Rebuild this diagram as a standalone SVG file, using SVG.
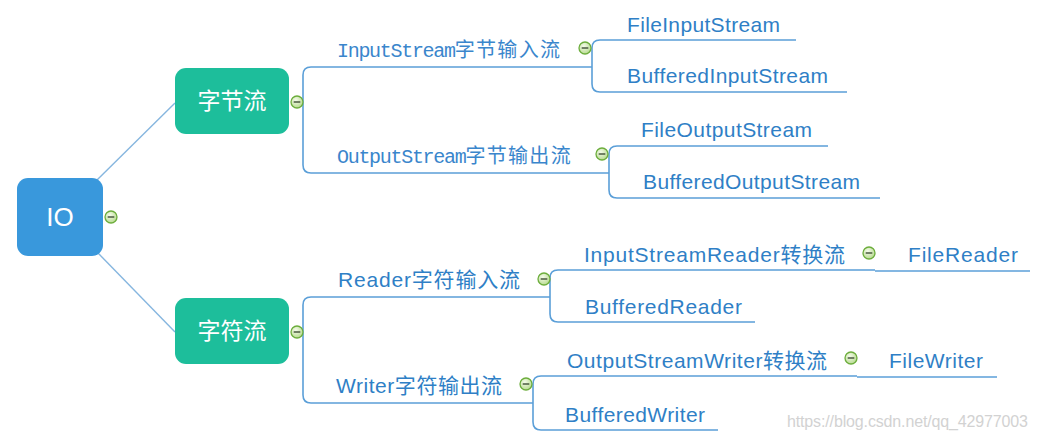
<svg xmlns="http://www.w3.org/2000/svg" xmlns:xlink="http://www.w3.org/1999/xlink" width="1039" height="441" viewBox="0 0 1039 441">
<style>
.edge{fill:none;stroke:#5b9fd8;stroke-width:1.6}
.lead{fill:none;stroke:#86b6df;stroke-width:1.4}
.lbl{font-family:"Liberation Sans","Noto Sans CJK SC",sans-serif;font-size:21px;fill:#2f7fc6}
.mono{font-family:"Liberation Mono","Noto Sans CJK SC",monospace;font-size:20px;letter-spacing:-1.3px;fill:#3a86cc}
.cjk{font-family:"Noto Sans CJK SC",sans-serif;font-size:20px;letter-spacing:1.3px}
.top{font-family:"Noto Sans CJK SC",sans-serif;font-size:23px;fill:#ffffff}
.wm{font-family:"Liberation Sans",sans-serif;font-size:16px;fill:#d2d2d2}
</style>
<defs>
<radialGradient id="g" cx="0.4" cy="0.35" r="0.7">
<stop offset="0" stop-color="#f4fbe9"/>
<stop offset="1" stop-color="#b5d98c"/>
</radialGradient>
<g id="minus">
<circle cx="0" cy="0" r="6" fill="url(#g)" stroke="#6cad3c" stroke-width="1.3"/>
<line x1="-3.3" y1="0" x2="3.3" y2="0" stroke="#4a5a40" stroke-width="1.5"/>
</g>
</defs>
<g id="connectors">
<path class="lead" d="M97,180 L175,103"/>
<path class="lead" d="M98,253 L175,332"/>
<path class="edge" d="M592,67 H311 Q303,67 303,75 V165 Q303,173 311,173 H609"/>
<path class="edge" d="M796,40 H600 Q592,40 592,48 V84 Q592,92 600,92 H847"/>
<path class="edge" d="M828,146 H617 Q609,146 609,154 V190 Q609,198 617,198 H880"/>
<path class="edge" d="M550,297 H311 Q303,297 303,305 V395 Q303,403 311,403 H533"/>
<path class="edge" d="M875,270 H558 Q550,270 550,278 V314 Q550,322 558,322 H755"/>
<path class="edge" d="M875,271 H1030"/>
<path class="edge" d="M857,376 H541 Q533,376 533,384 V422 Q533,430 541,430 H718"/>
<path class="edge" d="M857,377 H997"/>
</g>
<g id="node-io">
<rect x="17" y="178" width="86" height="78" rx="11" fill="#3998dc"/>
<text x="60" y="226" text-anchor="middle" font-family="Liberation Sans,sans-serif" font-size="26" fill="#ffffff">IO</text>
<use xlink:href="#minus" x="111" y="217"/>
</g>
<g id="node-bytes">
<rect x="175" y="68" width="114" height="66" rx="11" fill="#1dbe9b"/>
<text class="top" x="232" y="109" text-anchor="middle">字节流</text>
<use xlink:href="#minus" x="297" y="102"/>
</g>
<g id="node-chars">
<rect x="175" y="298" width="114" height="66" rx="11" fill="#1dbe9b"/>
<text class="top" x="232" y="339" text-anchor="middle">字符流</text>
<use xlink:href="#minus" x="297" y="332"/>
</g>
<g id="node-inputstream">
<text class="mono" x="337" y="57">InputStream<tspan class="cjk">字节输入流</tspan></text>
<use xlink:href="#minus" x="585" y="48"/>
</g>
<g id="node-outputstream">
<text class="mono" x="337" y="163">OutputStream<tspan class="cjk">字节输出流</tspan></text>
<use xlink:href="#minus" x="602" y="154"/>
</g>
<g id="node-fileinputstream"><text class="lbl" x="627" y="32" textLength="153" lengthAdjust="spacing">FileInputStream</text></g>
<g id="node-bufferedinputstream"><text class="lbl" x="627" y="83" textLength="201" lengthAdjust="spacing">BufferedInputStream</text></g>
<g id="node-fileoutputstream"><text class="lbl" x="641" y="137" textLength="171" lengthAdjust="spacing">FileOutputStream</text></g>
<g id="node-bufferedoutputstream"><text class="lbl" x="643" y="189" textLength="217" lengthAdjust="spacing">BufferedOutputStream</text></g>
<g id="node-reader">
<text class="lbl" x="338" y="287" textLength="182" lengthAdjust="spacing">Reader字符输入流</text>
<use xlink:href="#minus" x="544" y="279"/>
</g>
<g id="node-writer">
<text class="lbl" x="336" y="393" textLength="166" lengthAdjust="spacing">Writer字符输出流</text>
<use xlink:href="#minus" x="526" y="384"/>
</g>
<g id="node-inputstreamreader">
<text class="lbl" x="584" y="262" textLength="261" lengthAdjust="spacing">InputStreamReader转换流</text>
<use xlink:href="#minus" x="869" y="253"/>
</g>
<g id="node-filereader"><text class="lbl" x="908" y="262" textLength="110" lengthAdjust="spacing">FileReader</text></g>
<g id="node-bufferedreader"><text class="lbl" x="585" y="314" textLength="157" lengthAdjust="spacing">BufferedReader</text></g>
<g id="node-outputstreamwriter">
<text class="lbl" x="567" y="368" textLength="260" lengthAdjust="spacing">OutputStreamWriter转换流</text>
<use xlink:href="#minus" x="851" y="358"/>
</g>
<g id="node-filewriter"><text class="lbl" x="889" y="368" textLength="94" lengthAdjust="spacing">FileWriter</text></g>
<g id="node-bufferedwriter"><text class="lbl" x="565" y="422" textLength="140" lengthAdjust="spacing">BufferedWriter</text></g>
<text class="wm" x="787" y="427" textLength="241" lengthAdjust="spacing">https://blog.csdn.net/qq_42977003</text>
</svg>
